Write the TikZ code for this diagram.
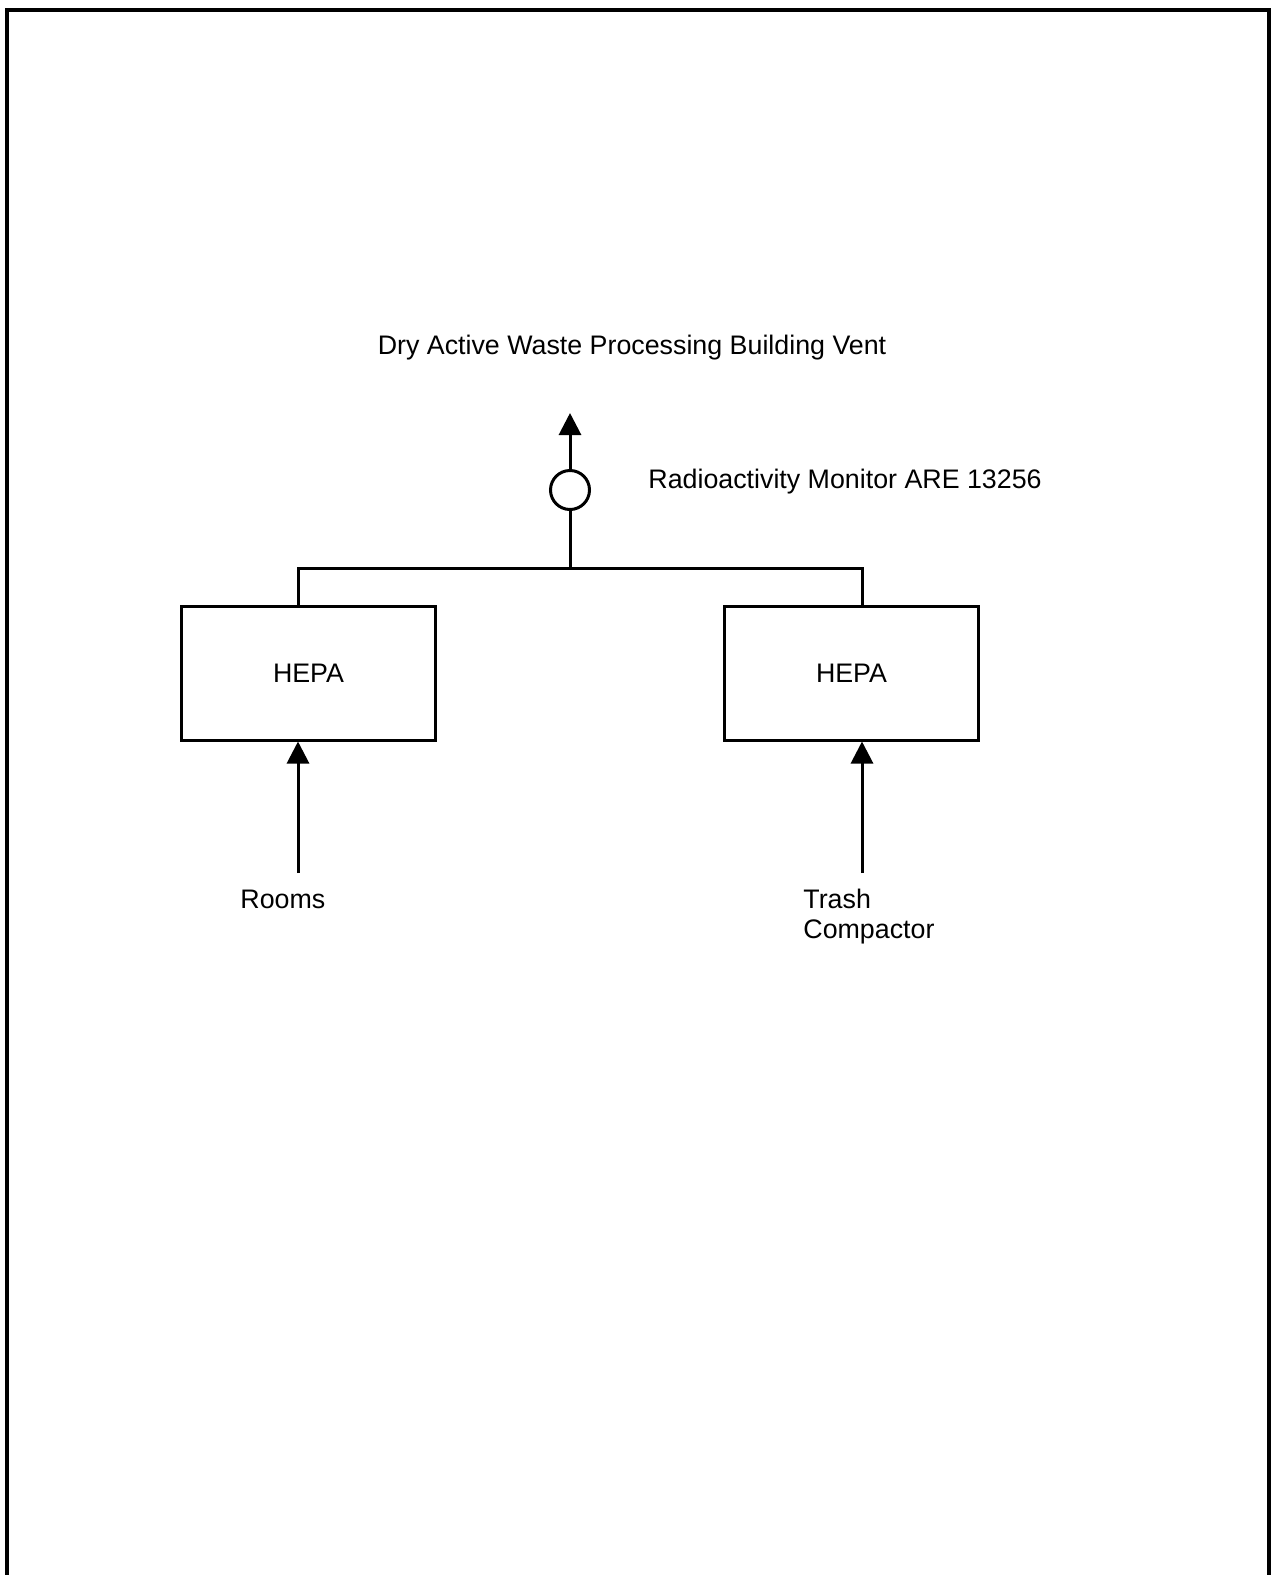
\documentclass[tikz,border=0pt]{standalone}
\usepackage{fontspec}
\setmainfont{Liberation Sans}
\usetikzlibrary{arrows.meta}
\begin{document}
\begin{tikzpicture}[x=0.5pt,y=-0.5pt,
  lbl/.style={font=\fontsize{13.4}{15}\selectfont, inner sep=0pt},
  hepabox/.style={draw, line width=1.5pt, minimum width=127pt, minimum height=67pt, inner sep=0pt, font=\fontsize{13.4}{16}\selectfont},
  mon/.style={draw, circle, line width=1.5pt, minimum size=19.5pt, inner sep=0pt},
  pipe/.style={line width=1.5pt},
  flow/.style={line width=1.5pt, -{Triangle[length=11pt,width=11pt]}},
  frame/.style={line width=1.8pt}]
\useasboundingbox (0,0) rectangle (1272,1575);
\draw[frame] (7,1575) -- (7,10) -- (1269,10) -- (1269,1575);
% texts
\node[lbl, anchor=base] (title) at (632,354) {Dry Active Waste Processing Building Vent};
\node[lbl, anchor=base west] (monlbl) at (648,488.5) {Radioactivity Monitor ARE 13256};
% monitor and vent
\node[mon] (monitor) at (570,490) {};
\coordinate (vent) at (570,413);
\coordinate (junc) at (570,568);
% filters
\node[hepabox] (hepa1) at (308.5,673) {HEPA};
\node[hepabox] (hepa2) at (851.5,673) {HEPA};
% sources
\node[lbl, anchor=base west] (rooms) at (240,908.5) {Rooms};
\node[lbl, anchor=base west, align=left] (trash) at (803,938.5) {Trash\\Compactor};
\coordinate (rin) at (298,873);
\coordinate (tin) at (862,873);
\coordinate (hl) at (298,568);
\coordinate (hr) at (862,568);
% connectors
\draw[flow] (monitor.north) -- (vent);
\draw[pipe] (monitor.south) -- (junc);
\draw[pipe] (hl |- hepa1.north) -- (hl) -- (hr) -- (hr |- hepa2.north);
\draw[flow] (rin) -- (rin |- hepa1.south);
\draw[flow] (tin) -- (tin |- hepa2.south);
\end{tikzpicture}
\end{document}
